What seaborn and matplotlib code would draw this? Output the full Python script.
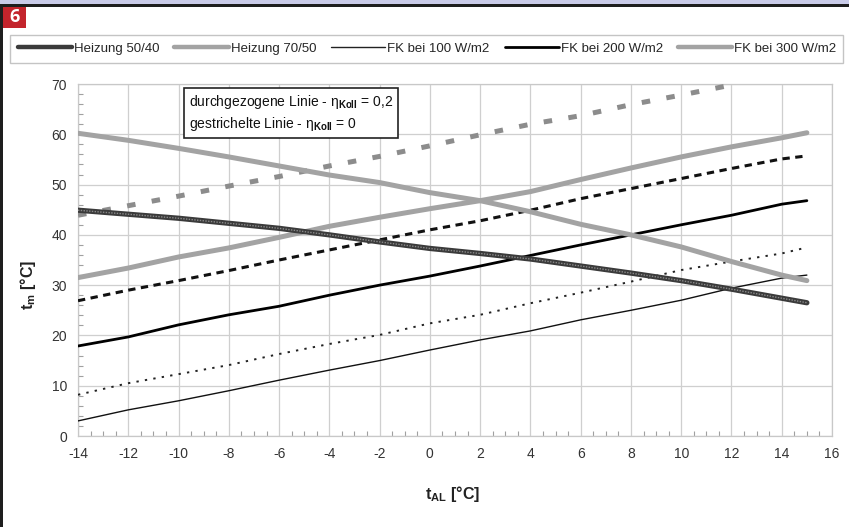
import numpy as np
import pandas as pd
import matplotlib
matplotlib.use("Agg")
import matplotlib.pyplot as plt
from matplotlib.patches import Rectangle
from matplotlib.lines import Line2D
import seaborn as sns

# Outdoor air temperature t_AL [°C]
t_al = [-14, -12, -10, -8, -6, -4, -2, 0, 2, 4, 6, 8, 10, 12, 14, 15]

# Mean temperatures t_m [°C]
heizung_50_40 = [44.9, 44.1, 43.3, 42.3, 41.3, 40.0, 38.6, 37.3, 36.3, 35.2, 33.8, 32.4, 30.9, 29.2, 27.4, 26.5]
heizung_70_50 = [31.5, 33.4, 35.6, 37.4, 39.5, 41.7, 43.5, 45.2, 46.8, 48.6, 51.0, 53.3, 55.5, 57.5, 59.3, 60.3]

fk100_solid = [3.0, 5.2, 7.0, 9.0, 11.1, 13.1, 15.0, 17.1, 19.1, 20.9, 23.1, 25.0, 27.0, 29.4, 31.4, 32.0]
fk100_dash = [8.2, 10.5, 12.3, 14.1, 16.3, 18.3, 20.1, 22.4, 24.1, 26.4, 28.5, 30.7, 33.0, 34.7, 36.3, 37.5]

fk200_solid = [17.9, 19.7, 22.1, 24.1, 25.8, 28.0, 30.0, 31.8, 33.8, 35.9, 38.0, 40.0, 42.0, 43.9, 46.1, 46.8]
fk200_dash = [26.9, 29.0, 30.9, 32.9, 35.0, 37.0, 39.0, 41.0, 42.8, 44.9, 47.2, 49.2, 51.2, 53.2, 55.1, 55.7]

fk300_solid = [60.2, 58.8, 57.2, 55.5, 53.7, 51.9, 50.4, 48.4, 46.8, 44.6, 42.1, 40.0, 37.6, 34.7, 32.0, 30.9]
fk300_dash = [43.9, 45.8, 47.7, 49.7, 51.6, 53.7, 55.6, 57.7, 59.9, 62.0, 63.7, 65.9, 67.8, 69.8, np.nan, np.nan]

legend_labels = ["Heizung 50/40", "Heizung 70/50", "FK bei 100 W/m2", "FK bei 200 W/m2", "FK bei 300 W/m2"]
x_ticks = list(range(-14, 17, 2))
y_ticks = list(range(0, 71, 10))

sns.set_style("white")
plt.rcParams["font.family"] = ["Liberation Sans", "DejaVu Sans"]
plt.rcParams["axes.unicode_minus"] = False
plt.rcParams["mathtext.fontset"] = "custom"
plt.rcParams["mathtext.rm"] = "Liberation Sans"
plt.rcParams["mathtext.bf"] = "Liberation Sans:bold"
plt.rcParams["mathtext.it"] = "Liberation Sans:italic"

fig = plt.figure(figsize=(8.49, 5.27), dpi=100)
ax = fig.add_axes([78 / 849, 1 - 436 / 527, (832 - 78) / 849, (436 - 84) / 527])

GRAY_THICK = "#a3a3a3"
DARK = "#3b3b3b"

def draw(y, color, lw, ls="-", z=3):
    df = pd.DataFrame({"x": t_al, "y": y})
    sns.lineplot(data=df, x="x", y="y", ax=ax, color=color, linewidth=lw,
                 linestyle=ls, zorder=z, legend=False, estimator=None)

# dashed lines (collector efficiency 0)
draw(fk100_dash, "#222222", 1.4, (0, (1.2, 3.2)))
draw(fk200_dash, "#111111", 2.2, (0, (2.4, 1.8)))
draw(fk300_dash, "#8c8c8c", 3.6, (0, (1.7, 3.3)))

# solid lines (collector efficiency 0.2)
draw(fk100_solid, "#111111", 1.0)
draw(fk200_solid, "#000000", 2.0)
draw(fk300_solid, GRAY_THICK, 3.6)
draw(heizung_70_50, GRAY_THICK, 3.6)
draw(heizung_50_40, DARK, 3.8, "-", 4)
draw(heizung_50_40, "#8a8a8a", 1.0, (0, (1, 1)), 5)

ax.set_xlim(-14, 16)
ax.set_ylim(0, 70)
ax.set_xticks(x_ticks)
ax.set_yticks(y_ticks)
ax.set_xticks(np.arange(-14, 16.01, 0.5), minor=True)
ax.set_yticks(np.arange(0, 70.01, 2), minor=True)
ax.grid(True, which="major", color="#cfcfcf", linewidth=0.9)
ax.tick_params(axis="both", which="major", labelsize=10, labelcolor="#333333",
               length=0, pad=8)
ax.tick_params(axis="both", which="minor", length=3.5, width=0.8, color="#a0a0a0",
               direction="in", bottom=True, left=True)
for s in ax.spines.values():
    s.set_color("#c8c8c8")
    s.set_linewidth(0.9)

ax.set_xlabel(r"$\mathbf{t_{AL}}$ [°C]", fontsize=11.5, fontweight="bold", color="#222222")
ax.xaxis.set_label_coords((425 - 78) / (832 - 78), -0.135)
ax.xaxis.label.set_horizontalalignment("left")
ax.set_ylabel(r"$\mathbf{t_{m}}$ [°C]", fontsize=11.5, fontweight="bold", color="#222222")
ax.yaxis.set_label_coords(-(78 - 38) / (832 - 78), 0.43)

# annotation box
ax.text(-9.6, 68.3,
        "durchgezogene Linie - η$_{\\mathbf{Koll}}$ = 0,2\n"
        "gestrichelte Linie - η$_{\\mathbf{Koll}}$ = 0",
        fontsize=10, color="#111111", va="top", ha="left", zorder=6,
        linespacing=1.35,
        bbox=dict(boxstyle="square,pad=0.35", facecolor="white",
                  edgecolor="#222222", linewidth=1.2))

# legend in its own box above the plot
handles = [
    Line2D([], [], color=DARK, linewidth=3.2),
    Line2D([], [], color=GRAY_THICK, linewidth=3.2),
    Line2D([], [], color="#222222", linewidth=1.0),
    Line2D([], [], color="#000000", linewidth=2.0),
    Line2D([], [], color=GRAY_THICK, linewidth=3.2),
]
leg = fig.legend(handles, legend_labels, loc="center", ncol=5,
                 bbox_to_anchor=(427 / 849, 1 - 49 / 527), fontsize=9.5,
                 frameon=False, handlelength=4.1, handletextpad=0.15,
                 columnspacing=1.15)
fig.patches.append(Rectangle((10 / 849, 1 - 63 / 527), 833 / 849, 28 / 527,
                             transform=fig.transFigure, facecolor="white",
                             edgecolor="#c4c4c4", linewidth=1.0, zorder=0))

# page frame and figure number badge
fig.patches.append(Rectangle((0, 1 - 4 / 527), 1, 4 / 527, transform=fig.transFigure,
                             facecolor="#c9cbe8", edgecolor="none", zorder=1))
fig.patches.append(Rectangle((0, 1 - 6.5 / 527), 1, 2.5 / 527, transform=fig.transFigure,
                             facecolor="#1e1e1e", edgecolor="none", zorder=1))
fig.patches.append(Rectangle((0, 0), 3 / 849, 1 - 4 / 527, transform=fig.transFigure,
                             facecolor="#1e1e1e", edgecolor="none", zorder=1))
fig.patches.append(Rectangle((3 / 849, 1 - 28 / 527), 23 / 849, 21.5 / 527,
                             transform=fig.transFigure, facecolor="#c3242c",
                             edgecolor="none", zorder=2))
fig.text(14.5 / 849, 1 - 17.5 / 527, "6", color="white", fontsize=13,
         fontweight="bold", ha="center", va="center", family=["Open Sans", "DejaVu Sans"])

fig.savefig("out.png", dpi=100)
